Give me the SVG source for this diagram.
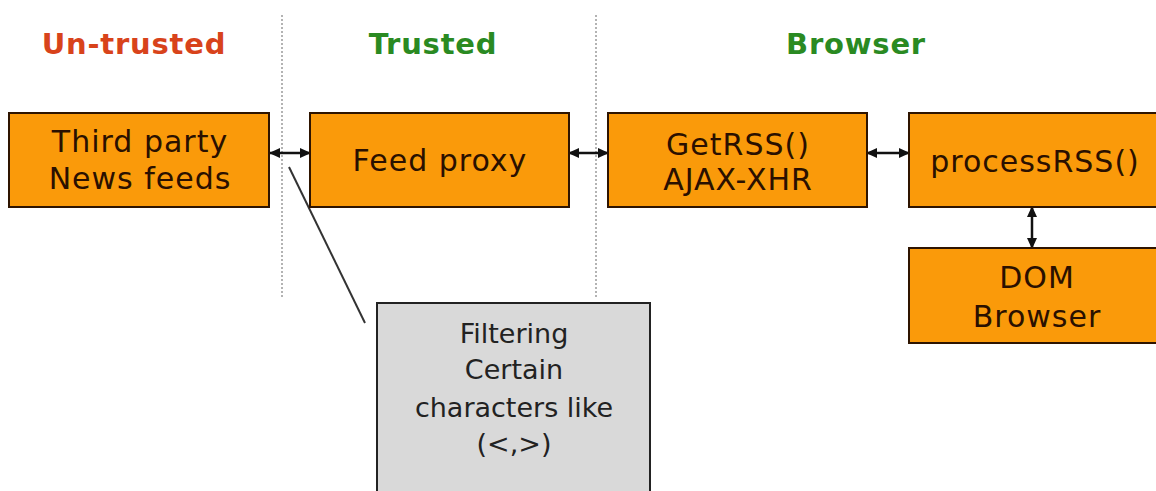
<svg xmlns="http://www.w3.org/2000/svg" width="1156" height="491" viewBox="0 0 1156 491">
  <style>
    .box { fill: #fa9a0a; stroke: #2e1400; stroke-width: 2; }
    .note { fill: #d9d9d9; stroke: #222; stroke-width: 2; }
    .t { font-family: "DejaVu Sans", Verdana, sans-serif; font-size: 30px; fill: #2a1000; text-anchor: middle; letter-spacing: 1px; }
    .n { font-family: "DejaVu Sans", Verdana, sans-serif; font-size: 27px; fill: #222; text-anchor: middle; }
    .h { font-family: "DejaVu Sans", Verdana, sans-serif; font-size: 29px; font-weight: bold; text-anchor: middle; letter-spacing: 0.8px; }
    .sep { stroke: #9a9a9a; stroke-width: 1.5; stroke-dasharray: 2 2; fill: none; }
    .link { stroke: #111; stroke-width: 2.5; fill: none; marker-start: url(#ah); marker-end: url(#ah); }
  </style>
  <defs>
    <marker id="ah" markerUnits="userSpaceOnUse" markerWidth="12" markerHeight="12" refX="10" refY="5" orient="auto-start-reverse">
      <path d="M0,0 L11,5 L0,10 z" fill="#111"/>
    </marker>
  </defs>
  <rect width="1156" height="491" fill="#fff"/>

  <g id="headings">
    <text class="h" x="134" y="54" fill="#d8431b">Un-trusted</text>
    <text class="h" x="433" y="54" fill="#2a8a22">Trusted</text>
    <text class="h" x="856" y="54" fill="#2a8a22">Browser</text>
  </g>

  <g id="separators">
    <line class="sep" x1="282" y1="15" x2="282" y2="298"/>
    <line class="sep" x1="596" y1="15" x2="596" y2="298"/>
  </g>

  <g id="connectors">
    <line class="link" x1="270" y1="153" x2="310" y2="153"/>
    <line class="link" x1="569" y1="153" x2="608" y2="153"/>
    <line class="link" x1="867" y1="153" x2="909" y2="153"/>
    <line class="link" x1="1032" y1="207" x2="1032" y2="248"/>
    <line x1="289" y1="167" x2="365" y2="323" stroke="#333" stroke-width="2"/>
  </g>

  <g id="third-party">
    <rect class="box" x="9" y="113" width="260" height="94"/>
    <text class="t" x="140" y="152">Third party</text>
    <text class="t" x="140" y="189">News feeds</text>
  </g>

  <g id="feed-proxy">
    <rect class="box" x="310" y="113" width="259" height="94"/>
    <text class="t" x="440" y="171">Feed proxy</text>
  </g>

  <g id="getrss">
    <rect class="box" x="608" y="113" width="259" height="94"/>
    <text class="t" x="738" y="155">GetRSS()</text>
    <text class="t" x="738" y="190">AJAX-XHR</text>
  </g>

  <g id="processrss">
    <rect class="box" x="909" y="113" width="260" height="94"/>
    <text class="t" x="1035" y="172">processRSS()</text>
  </g>

  <g id="dom-browser">
    <rect class="box" x="909" y="248" width="260" height="95"/>
    <text class="t" x="1037" y="288">DOM</text>
    <text class="t" x="1037" y="327">Browser</text>
  </g>

  <g id="filtering">
    <rect class="note" x="377" y="303" width="273" height="200"/>
    <text class="n" x="514" y="343">Filtering</text>
    <text class="n" x="514" y="379">Certain</text>
    <text class="n" x="514" y="417">characters like</text>
    <text class="n" x="514" y="453">(&lt;,&gt;)</text>
  </g>
</svg>
